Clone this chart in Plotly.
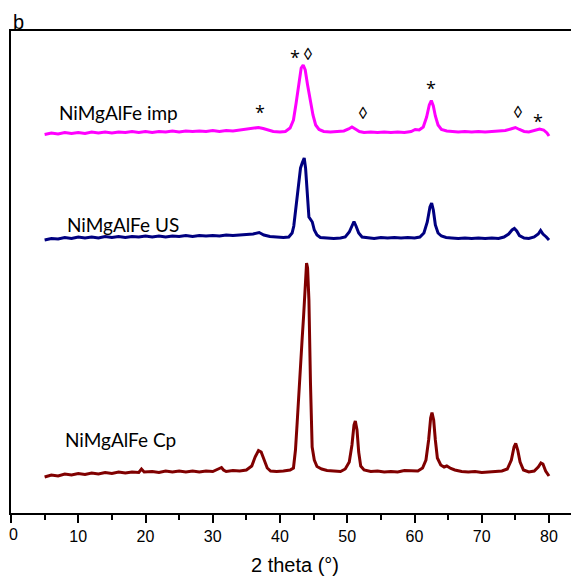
import plotly.graph_objects as go

# ---- data (2 theta in degrees, intensity in arbitrary units incl. vertical offset) ----
cp_x = [5.0, 6, 7, 8, 9, 10, 11, 12, 13, 14, 15, 16, 17, 18, 19, 19.4, 19.8, 21, 22, 23, 24, 25, 26, 27, 28, 29, 30,
        31.0, 31.3, 31.6, 32, 33, 34, 35, 35.8, 36.3, 36.8, 37.2, 37.6, 38.1, 38.6, 39.5, 40.5, 41.5, 42.0, 42.3,
        42.55, 42.8, 43.15, 43.3, 43.5, 43.8, 43.95, 44.1, 44.3, 44.53, 44.78, 45.1, 45.5, 46.2, 47, 48, 49, 49.7,
        50.3, 50.7, 51.0, 51.2, 51.45, 51.7, 52.0, 52.5, 53.5, 54.5, 55.5, 56.5, 57.5, 58.5, 59.5, 60.5, 61.2, 61.7,
        62.1, 62.4, 62.6, 62.85, 63.1, 63.4, 63.9, 64.4, 64.8, 65.4, 66, 67, 68, 69, 70, 71, 72, 73, 73.8, 74.4,
        74.8, 75.05, 75.35, 75.7, 76.2, 77, 77.8, 78.4, 78.8, 79.1, 79.5, 80.0]
cp_y = [36, 38, 37, 39, 38, 39.5, 38.5, 40, 39, 40.5, 39.5, 41, 40, 41, 40.5, 44, 41, 41.5, 40.5, 42, 41, 42, 41, 42,
        41, 42, 41.5, 44, 45.5, 43, 41.5, 42.5, 42, 43, 47, 56, 62.5, 61, 53, 45, 42, 41.5, 42, 43, 45, 63,
        90, 120, 168, 175, 196, 243, 250, 245, 213, 130, 66, 53, 46.5, 44, 42.5, 42, 41.5, 44,
        51, 68, 88, 92, 83, 61, 47, 43, 41.5, 42, 41, 41.5, 41, 42.5, 42, 42, 45, 53,
        73, 95, 100.5, 93, 73, 55, 48, 46, 47, 44.5, 43, 41.5, 41, 41.5, 40.5, 41, 41.5, 42, 44, 53,
        66, 69.5, 63, 51, 43, 41, 42, 46, 50, 49, 42, 37]

us_x = [5.0, 6, 7, 8, 9, 10, 11, 12, 13, 14, 15, 16, 17, 18, 19, 20, 21, 22, 23, 24, 25, 26, 27, 28, 29, 30, 31, 32,
        33, 34, 35, 36, 36.9, 37.6, 38.5, 39.5, 40.5, 41.3, 41.8, 42.05, 42.3, 42.55, 42.8, 43.05, 43.3, 43.6, 43.8,
        44.0, 44.3, 44.6, 44.8, 45.1, 45.5, 46, 47, 48, 49, 49.7, 50.3, 50.7, 51.0, 51.3, 51.7, 52.2, 53, 54, 55,
        56, 57, 58, 59, 60, 60.8, 61.4, 61.9, 62.3, 62.55, 62.8, 63.1, 63.5, 64, 64.7, 65.5, 66.5, 67.5, 68.5, 69.5,
        70.5, 71.5, 72.5, 73.3, 74, 74.5, 74.85, 75.2, 75.6, 76.3, 77, 77.8, 78.4, 78.75, 79.1, 79.6, 80.0]
us_y = [273, 274.5, 274, 275.5, 274.5, 276, 275, 276, 275, 276.5, 275.5, 276.5, 275.5, 276.5, 276, 277, 276, 277,
        276, 277, 276.5, 277.5, 276.5, 277.5, 277, 277.5, 277, 278, 277.5, 278, 278.5, 279, 280.5, 278, 276.5, 276,
        275.5, 276, 280, 287, 303, 318, 335, 345, 350, 355, 345, 320, 296, 293, 291, 283, 278, 275.5, 275, 274.5,
        275, 276, 281, 288, 291.5, 287, 280, 276, 275, 274.5, 275.5, 275, 275.5, 275, 275.5, 275, 276, 280, 291,
        306, 310, 303, 288, 280, 277, 275.5, 275, 274.5, 275, 274.5, 275, 274.5, 275, 274.5, 276, 279, 283, 284.5,
        282, 277.5, 275, 274.5, 276, 279, 282.5, 279, 276, 273]

imp_x = [5.0, 6, 7, 8, 9, 10, 11, 12, 13, 14, 15, 16, 17, 18, 19, 20, 21, 22, 23, 24, 25, 26, 27, 28, 29, 30, 31,
         32, 33, 34, 35, 36, 36.8, 37.5, 38.3, 39, 40, 40.8, 41.5, 42.0, 42.4, 42.8, 43.15, 43.45, 43.75, 44.1,
         44.5, 44.9, 45.3, 45.8, 46.5, 47.5, 48.5, 49.5, 50.2, 50.7, 51.2, 51.8, 52.5, 53.5, 54.5, 55.5, 56.5,
         57.5, 58.5, 59.5, 60.1, 60.7, 61.3, 61.8, 62.2, 62.5, 62.8, 63.1, 63.5, 64, 64.8, 65.5, 66.5, 67.5, 68.5,
         69.5, 70.5, 71.5, 72.5, 73.5, 74.3, 75.0, 75.6, 76.3, 77, 77.8, 78.6, 79.2, 79.7, 80.0]
imp_y = [378.5, 380, 379, 380.5, 379.5, 380.5, 379.5, 381, 380, 381, 380, 381, 380.5, 381.5, 380.5, 381.5, 380.5,
         381.5, 381, 382, 381, 382, 381.5, 382, 381.5, 382.5, 381.5, 382.5, 382, 383, 384, 385, 385.5, 384.5,
         382.5, 381.5, 381, 381.5, 385, 393, 410, 431, 445, 448, 443, 428, 413, 398, 388, 383.5, 381.5, 381,
         381.5, 382, 384, 386, 384, 381.5, 380.5, 381, 380.5, 381, 380.5, 381, 380.5, 381.5, 383.5, 383, 386,
         396, 408, 412.5, 407, 397, 388, 383.5, 382, 381.5, 381, 381.5, 381, 381.5, 381, 381.5, 382, 382.5, 384,
         385.5, 383.5, 381.5, 381, 382.5, 384, 383, 380, 377]

series_names = ["NiMgAlFe imp", "NiMgAlFe US", "NiMgAlFe Cp"]
label_x = [6.84, 8.03, 7.78]
label_y = [400.5, 289, 73.5]

mark_text = ["*", "*", "\u25CA", "\u25CA", "*", "\u25CA", "*"]
mark_x = [37.0, 42.3, 44.1, 52.3, 62.4, 75.4, 78.4]
mark_y = [406.3, 461.3, 459.7, 400.3, 429.7, 401.3, 397.0]

x_ticks = [0, 10, 20, 30, 40, 50, 60, 70, 80]
x_tick_labels = [str(v) for v in x_ticks]

colors = ["#FF00FF", "#000080", "#800000"]

fig = go.Figure()
for xs, ys, name, col in [(imp_x, imp_y, series_names[0], colors[0]),
                          (us_x, us_y, series_names[1], colors[1]),
                          (cp_x, cp_y, series_names[2], colors[2])]:
    fig.add_trace(go.Scatter(x=xs, y=ys, mode="lines", name=name,
                             line=dict(color=col, width=3), showlegend=False))

annotations = []
for name, lx, ly in zip(series_names, label_x, label_y):
    annotations.append(dict(x=lx, y=ly, text=name, showarrow=False, xanchor="left", yanchor="middle",
                            font=dict(family="Lato", size=19, color="#000000")))
for t, mx, my in zip(mark_text, mark_x, mark_y):
    annotations.append(dict(x=mx, y=my, text=t, showarrow=False, xanchor="center", yanchor="middle",
                            yshift=-5 if t == "*" else 0,
                            font=dict(family="Open Sans, DejaVu Sans", size=18 if t == "*" else 17,
                                      color="#000000")))
annotations.append(dict(x=0.0, y=1.0187, xref="paper", yref="paper", text="b", showarrow=False,
                        xanchor="left", yanchor="middle",
                        font=dict(family="Liberation Sans", size=20, color="#000000")))
# the first tick label sits at the very edge of the page; draw it as text nudged inside the figure
annotations.append(dict(x=x_ticks[0], y=0, xref="x", yref="paper", text=x_tick_labels[0], showarrow=False,
                        xanchor="left", yanchor="top", xshift=-3, yshift=-12, borderpad=0,
                        font=dict(family="Liberation Sans", size=16, color="#000000")))

# page has an 8px body margin, so the figure is sized/offset to land on the reference pixels
fig.update_layout(
    width=571, height=568,
    margin=dict(l=3, r=0, t=23, b=63, autoexpand=False),
    paper_bgcolor="white", plot_bgcolor="white",
    annotations=annotations,
    xaxis=dict(range=[0, 84.46], tickvals=x_ticks, ticktext=[""] + x_tick_labels[1:],
               ticks="outside", ticklen=8, tickwidth=1.5,
               tickcolor="#000000", showline=True, linecolor="#000000", linewidth=1.5, mirror=True,
               showgrid=False, zeroline=False, automargin=False, ticklabeloverflow="allow",
               minor=dict(dtick=5, tick0=0, ticks="outside", ticklen=5, tickwidth=1.5, tickcolor="#000000",
                          showgrid=False),
               tickfont=dict(family="Liberation Sans", size=16, color="#000000"),
               title=dict(text="2 theta (\u00b0)", standoff=14,
                          font=dict(family="Liberation Sans", size=20, color="#000000"))),
    yaxis=dict(range=[0, 482], showticklabels=False, ticks="", showline=True, linecolor="#000000",
               linewidth=1.5, showgrid=False, zeroline=False, automargin=False),
)

fig.write_html("out.html")
